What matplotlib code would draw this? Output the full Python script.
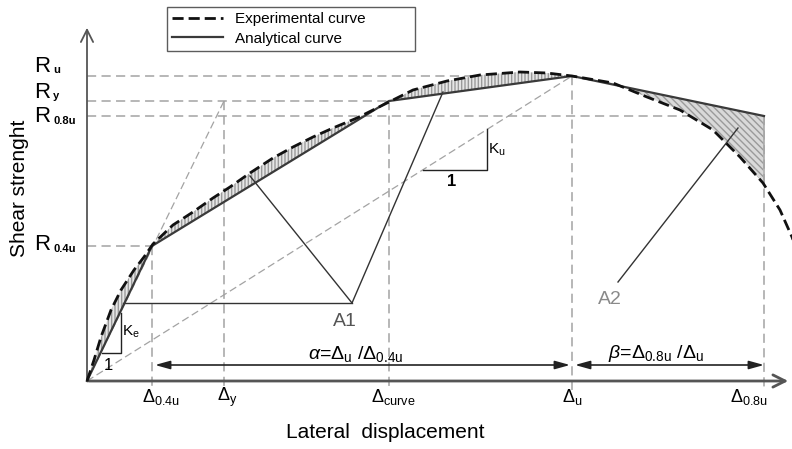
import numpy as np
import matplotlib.pyplot as plt

plt.rcParams['font.family'] = ['Liberation Sans', 'DejaVu Sans']
plt.rcParams['mathtext.fontset'] = 'custom'
plt.rcParams['mathtext.rm'] = 'Liberation Sans'
plt.rcParams['mathtext.it'] = 'Liberation Sans:italic'
plt.rcParams['mathtext.bf'] = 'Liberation Sans:bold'

########
# data (schematic units)
########

# characteristic displacements
disp_keys = ['0.4u', 'y', 'curve', 'u', '0.8u']
disp_vals = [65, 137, 302, 485, 677]

# characteristic strengths
str_keys = ['u', 'y', '0.8u', '0.4u']
str_vals = [305, 280, 265, 135]

# analytical (multi-linear) curve
ana_x = [0, 65, 302, 485, 677]
ana_y = [0, 135, 280, 305, 265]

# experimental curve
exp_x = [0, 7, 14, 24, 34, 47, 57, 66, 86, 106, 126, 143, 163, 186, 206, 226, 246,
         270, 286, 306, 326, 360, 393, 433, 460, 485, 526, 560, 593, 626, 653, 676,
         693, 705, 712]
exp_y = [0, 21, 44, 71, 91, 111, 124, 137, 156, 169, 183, 194, 208, 223, 234, 244, 253,
         263, 271, 281, 291, 300, 306, 309, 308, 305, 298, 284, 271, 251, 224, 198,
         171, 144, 125]

GREY = '#a3a3a3'
DARK = '#3a3a3a'

fig = plt.figure(figsize=(7.92, 4.49), dpi=100)
ax = fig.add_axes([0, 0, 1, 1])
ax.set_xlim(-87, 705)
ax.set_ylim(-68, 381)
ax.axis('off')

d = dict(zip(disp_keys, disp_vals))
r = dict(zip(str_keys, str_vals))
ref_ls = (0, (6, 3.5))

# reference lines (horizontal up to their point, vertical down to the axis)
h_ends = {'u': d['u'], 'y': d['curve'], '0.8u': d['0.8u'], '0.4u': d['0.4u']}
for k in str_keys:
    ax.plot([0, h_ends[k]], [r[k], r[k]], color=GREY, lw=1.1, ls=ref_ls, zorder=1)
v_tops = {'0.4u': r['0.4u'], 'y': r['y'], 'curve': r['y'], 'u': r['u'], '0.8u': r['0.8u']}
for k in disp_keys:
    ax.plot([d[k], d[k]], [v_tops[k], -10], color=GREY, lw=1.1, ls=ref_ls, zorder=1)

# secant lines
ax.plot([0, d['y']], [0, r['y']], color=GREY, lw=0.9, ls=(0, (6, 3)), zorder=1)
ax.plot([0, d['u']], [0, r['u']], color=GREY, lw=0.9, ls=(0, (6, 3)), zorder=1)

# hatched areas between the curves
exp_x = np.array(exp_x); exp_y = np.array(exp_y)
m1 = exp_x <= d['u']
poly_x = list(exp_x[m1]) + ana_x[:4][::-1]
poly_y = list(exp_y[m1]) + ana_y[:4][::-1]
ax.fill(poly_x, poly_y, facecolor='#e6e6e6', edgecolor='#9a9a9a', hatch='|||||',
        lw=0, zorder=2)
m2 = (exp_x >= d['u']) & (exp_x <= d['0.8u'])
poly_x = ana_x[3:] + list(exp_x[m2][::-1])
poly_y = ana_y[3:] + list(exp_y[m2][::-1])
ax.fill(poly_x, poly_y, facecolor='#d9d9d9', edgecolor='#9a9a9a', hatch='\\\\\\\\\\',
        lw=0, zorder=2)
ax.plot([d['0.8u'], d['0.8u']], [r['0.8u'], 198], color=GREY, lw=1.1, zorder=2)

# curves
l_ana, = ax.plot(ana_x, ana_y, color=DARK, lw=1.6, zorder=4)
l_exp, = ax.plot(exp_x, exp_y, color='#111111', lw=2.0, ls=(0, (4, 1.8)), zorder=5)

# axes with arrows
ax.annotate('', xy=(0, 356), xytext=(0, -3),
            arrowprops=dict(arrowstyle='->', lw=1.3, color='#555555', mutation_scale=22))
ax.annotate('', xy=(704, 0), xytext=(-1, 0),
            arrowprops=dict(arrowstyle='->', lw=2.0, color='#555555', mutation_scale=22))

# stiffness triangles
ke_slope = ana_y[1] / ana_x[1]
x0, run = 15, 19
ax.plot([x0, x0 + run, x0 + run], [ke_slope * x0 - 3, ke_slope * x0 - 3, ke_slope * x0 + 37],
        color='#222222', lw=1.0, zorder=3)
ax.text(x0 + run + 1, ke_slope * x0 + 18, r'K$_{\rm e}$', fontsize=11, va='center', zorder=6)
ax.text(x0 + 6, ke_slope * x0 - 16, '1', fontsize=12, va='center', ha='center', zorder=6)

ku_slope = r['u'] / d['u']
x0, run = 336, 64
ax.plot([x0, x0 + run, x0 + run], [ku_slope * x0, ku_slope * x0, ku_slope * (x0 + run)],
        color='#222222', lw=1.0, zorder=3)
ax.text(x0 + run + 1, ku_slope * x0 + 20, r'K$_{\rm u}$', fontsize=11, va='center', zorder=6)
ax.text(x0 + 29, ku_slope * x0 - 12, '1', fontsize=12, va='center', ha='center',
        fontweight='bold', zorder=6)

# pointers to the areas
a1 = (265, 78)
for tx, ty in [(36, 78), (163, 205), (356, 289)]:
    ax.plot([a1[0], tx], [a1[1], ty], color='#333333', lw=1.0, zorder=3)
ax.text(258, 59, 'A1', fontsize=14, color='#555555', ha='center', va='center')
ax.plot([531, 651], [99, 253], color='#333333', lw=1.0, zorder=3)
ax.text(523, 81, 'A2', fontsize=14, color='#8a8a8a', ha='center', va='center')

# ductility dimension arrows
arr = dict(arrowstyle='<|-|>,head_length=0.9,head_width=0.25', lw=1.2, color='#222222',
           mutation_scale=10, shrinkA=0, shrinkB=0)
ax.annotate('', xy=(d['0.4u'] + 3, 16), xytext=(d['u'] - 2, 16), arrowprops=arr)
ax.annotate('', xy=(d['u'] + 3, 16), xytext=(d['0.8u'], 16), arrowprops=arr)
ax.text(269, 27, r'$\alpha$=$\Delta_{\rm u}$ /$\Delta_{\rm 0.4u}$', fontsize=14,
        ha='center', va='center')
ax.text(569, 27, r'$\beta$=$\Delta_{\rm 0.8u}$ /$\Delta_{\rm u}$', fontsize=14,
        ha='center', va='center')

# tick labels on the displacement axis
tick_ha = {'0.4u': 'left', 'y': 'left', 'curve': 'left', 'u': 'center', '0.8u': 'right'}
tick_dx = {'0.4u': -10, 'y': -7, 'curve': -18, 'u': 0, '0.8u': 4}
for k in disp_keys:
    ax.text(d[k] + tick_dx[k], -16, r'$\Delta_{\rm %s}$' % k, fontsize=13,
            ha=tick_ha[k], va='center')

# strength labels
r_label_dy = {'u': 10, 'y': 9, '0.8u': -1, '0.4u': 1}
for k in str_keys:
    ax.text(-45, r[k] + r_label_dy[k], 'R', fontsize=16, ha='center', va='center')
    ax.text(-34, r[k] + r_label_dy[k] - 4, k, fontsize=8, fontweight='bold',
            ha='left', va='center')

ax.text(-68, 193, 'Shear strenght', fontsize=15, rotation=90, ha='center', va='center')
ax.text(298, -52, 'Lateral  displacement', fontsize=15, ha='center', va='center')

ax.legend([l_exp, l_ana], ['Experimental curve', 'Analytical curve' + ' ' * 16],
          loc='upper left', bbox_to_anchor=(167 / 792, 1 - 7 / 449), fontsize=11,
          frameon=True, fancybox=False, edgecolor='#333333', handlelength=3.3,
          borderpad=0.35, labelspacing=0.35, borderaxespad=0, handletextpad=0.8)

fig.savefig('out.png', dpi=100)
